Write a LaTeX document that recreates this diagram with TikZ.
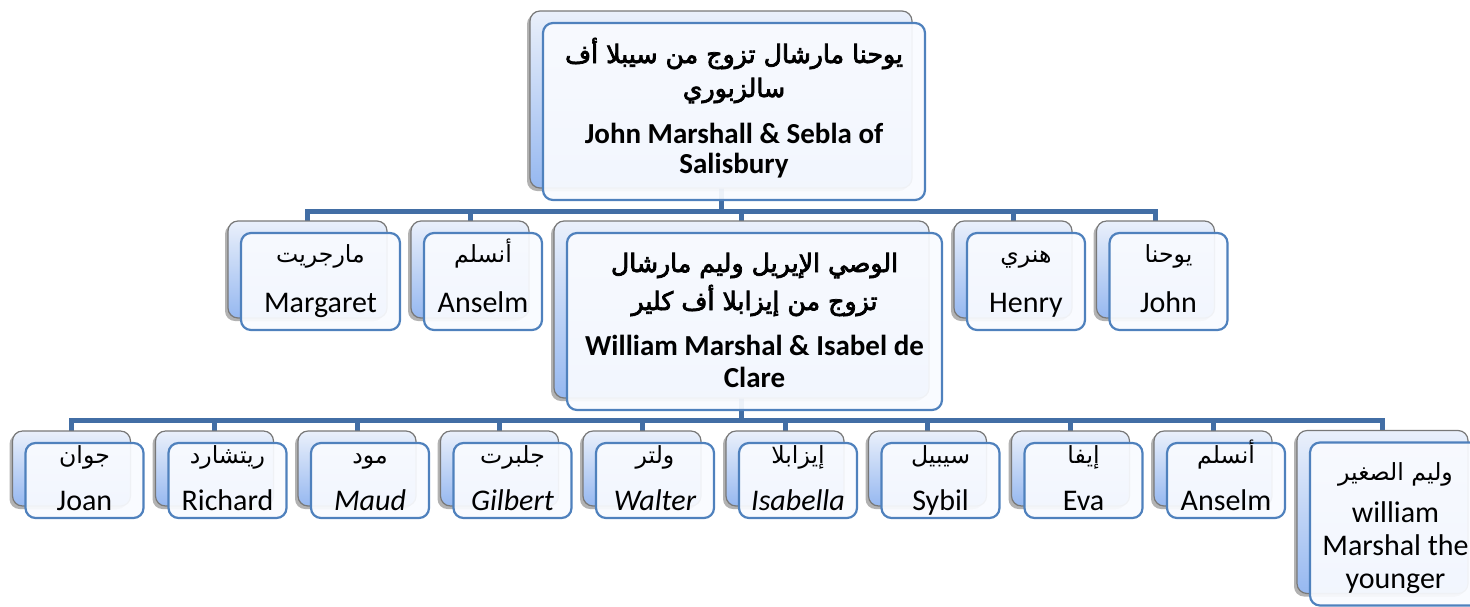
\documentclass[tikz,border=0pt]{standalone}
\usepackage{fontspec}
\setmainfont{Carlito}
\newfontfamily\arabicfont[Script=Arabic, BoldFont={DejaVu Sans}, BoldFeatures={FakeBold=3}]{DejaVu Sans}
\TeXXeTstate=1
\usepackage{xcolor}
\usepackage{tikz}
\usetikzlibrary{shadows, backgrounds}
\definecolor{linkblue}{RGB}{66,110,165}
\definecolor{cardedge}{RGB}{79,129,189}
\definecolor{cardfill}{RGB}{249,251,255}
\definecolor{backtop}{RGB}{234,240,251}
\definecolor{backbottom}{RGB}{150,184,240}
\definecolor{backedge}{RGB}{120,120,120}
\newcommand{\arline}[2][11.8pt]{{\arabicfont\fontsize{#1}{17pt}\selectfont\beginR#2\endR}}

\begin{document}
\begin{tikzpicture}[
    x=0.5pt, y=-0.5pt,
    card/.style={rectangle, rounded corners=5pt, draw=cardedge, line width=1.1pt, fill=cardfill, fill opacity=0.93, text opacity=1, align=center, inner sep=0pt, font=\fontsize{15pt}{17pt}\selectfont,
        general shadow={shadow xshift=-8pt, shadow yshift=4.5pt, fill=black, draw=none, opacity=0.3},
        copy shadow={shadow xshift=-6.5pt, shadow yshift=6pt, draw=backedge, line width=0.6pt, top color=backtop, bottom color=backbottom, opacity=1}},
    couple/.style={card, minimum height=88.5pt, font=\bfseries\fontsize{14.5pt}{17pt}\selectfont},
    child/.style={card, minimum width=59pt, minimum height=48.5pt, text height=39.5pt, text depth=9pt},
    kid/.style={card, minimum width=59pt, minimum height=37.5pt, text height=33.5pt, text depth=4pt},
    link/.style={draw=linkblue, line width=2.5pt, transform canvas={xshift=-6.5pt}}
]
\useasboundingbox (0,0) rectangle (1470,606);
\clip (0,0) rectangle (1470,606);

% Couples
\node[couple, minimum width=191pt, text height=75pt, text depth=13.5pt] (johnsebla) at (734,111.5) {\arline[12.6pt]{يوحنا مارشال تزوج من سيبلا أف}\\
    \arline[12.6pt]{سالزبوري}\\[6pt]
    John Marshall \& Sebla of\\[-2pt]
    Salisbury};
\node[couple, minimum width=187.5pt, text height=77pt, text depth=11.5pt] (william) at (754.5,321.5) {\arline[12.6pt]{الوصي الإيريل وليم مارشال}\\[2pt]
    \arline[12.6pt]{تزوج من إيزابلا أف كلير}\\[5.5pt]
    William Marshal \& Isabel de\\[-1pt]
    Clare};

% Children of John and Sebla
\node[child, minimum width=79.5pt] (margaret) at (320.5,281.5) {\arline{مارجريت}\\[8pt]Margaret};
\node[child] (anselm) at (483,281.5) {\arline{أنسلم}\\[8pt]Anselm};
\node[child] (henry) at (1026,281.5) {\arline{هنري}\\[8pt]Henry};
\node[child] (john) at (1168.5,281.5) {\arline{يوحنا}\\[8pt]John};

% Children of William and Isabel
\node[kid] (joan) at (84.5,480.5) {\arline{جوان}\\[6.5pt]Joan};
\node[kid] (richard) at (227.5,480.5) {\arline{ريتشارد}\\[6.5pt]Richard};
\node[kid] (maud) at (370,480.5) {\arline{مود}\\[6.5pt]\itshape Maud};
\node[kid] (gilbert) at (512.5,480.5) {\arline{جلبرت}\\[6.5pt]\itshape Gilbert};
\node[kid] (walter) at (655,480.5) {\arline{ولتر}\\[6.5pt]\itshape Walter};
\node[kid] (isabella) at (798,480.5) {\arline{إيزابلا}\\[6.5pt]\itshape Isabella};
\node[kid] (sybil) at (940.5,480.5) {\arline{سيبيل}\\[6.5pt]Sybil};
\node[kid] (eva) at (1083.5,480.5) {\arline{إيفا}\\[6.5pt]Eva};
\node[kid] (anselmjr) at (1226,480.5) {\arline{أنسلم}\\[6.5pt]Anselm};
\node[card, minimum width=85.5pt, minimum height=81.5pt, text height=72.75pt, text depth=8.75pt] (williamjr) at (1395.5,524) {\arline{وليم الصغير}\\[4pt]
    william\\[-0.5pt]
    Marshal the\\[-0.5pt]
    younger};

% Links
\coordinate (rowA) at (0,211);
\coordinate (rowB) at (0,420);
\begin{pgfonlayer}{background}
\draw[link] (johnsebla.center) |- (margaret |- rowA) -- (margaret.center);
\draw[link] (johnsebla.center) |- (anselm |- rowA) -- (anselm.center);
\draw[link] (johnsebla.center) |- (william |- rowA) -- (william.center);
\draw[link] (johnsebla.center) |- (henry |- rowA) -- (henry.center);
\draw[link] (johnsebla.center) |- (john |- rowA) -- (john.center);

\draw[link] (william.center) |- (joan |- rowB) -- (joan.center);
\draw[link] (william.center) |- (richard |- rowB) -- (richard.center);
\draw[link] (william.center) |- (maud |- rowB) -- (maud.center);
\draw[link] (william.center) |- (gilbert |- rowB) -- (gilbert.center);
\draw[link] (william.center) |- (walter |- rowB) -- (walter.center);
\draw[link] (william.center) |- (isabella |- rowB) -- (isabella.center);
\draw[link] (william.center) |- (sybil |- rowB) -- (sybil.center);
\draw[link] (william.center) |- (eva |- rowB) -- (eva.center);
\draw[link] (william.center) |- (anselmjr |- rowB) -- (anselmjr.center);
\draw[link] (william.center) |- (williamjr |- rowB) -- (williamjr.center);
\end{pgfonlayer}

\end{tikzpicture}
\end{document}
